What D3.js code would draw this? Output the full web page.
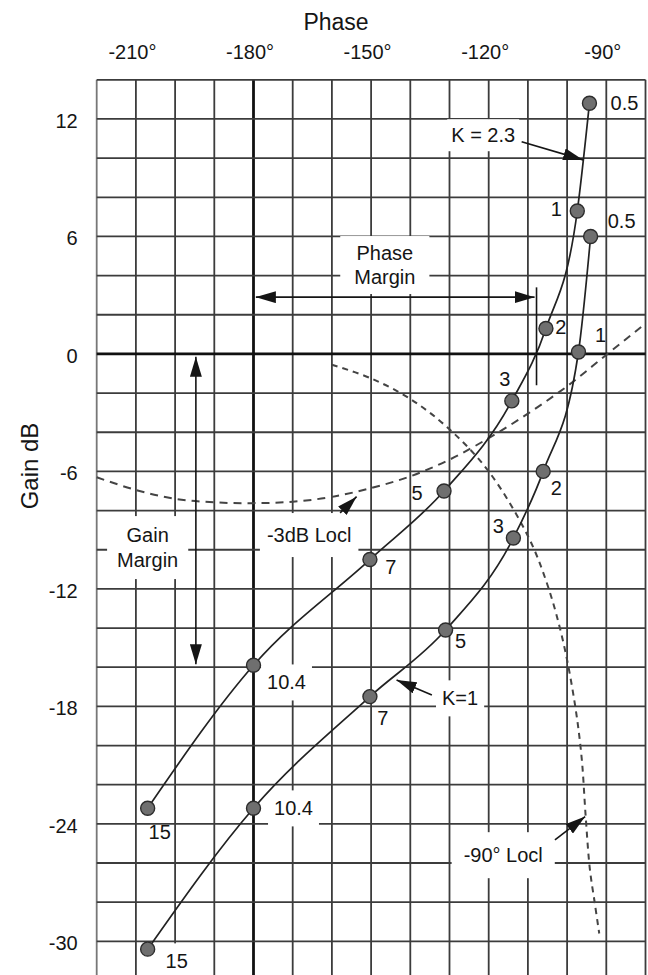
<!DOCTYPE html>
<html>
<head>
<meta charset="utf-8">
<script src="https://cdn.jsdelivr.net/npm/d3@7"></script>
<style>
  html, body { margin: 0; padding: 0; background: #fff; }
  svg { display: block; font-family: "Liberation Sans", Arial, Helvetica, sans-serif; }
</style>
</head>
<body>
<svg id="chart" width="648" height="975"></svg>
<script>
// ---- Nichols chart data -------------------------------------------------
// Frequencies (rad/s) marked along both open-loop curves
const freqLabels = ["0.5", "1", "2", "3", "5", "7", "10.4", "15"];

// Open-loop response with K = 2.3 (phase in degrees, gain in dB)
const phaseK23 = [-94.3, -97.4, -105.4, -114.1, -131.4, -150.3, -180, -207];
const gainK23  = [12.8, 7.3, 1.3, -2.4, -7.0, -10.5, -15.9, -23.2];

// Open-loop response with K = 1
const phaseK1 = [-94.0, -97.1, -106.1, -113.7, -131.0, -150.3, -180, -207];
const gainK1  = [6.0, 0.1, -6.0, -9.4, -14.1, -17.5, -23.2, -30.4];

// Closed-loop -3 dB magnitude locus
const locusM3Phase = [-220, -210, -200, -190, -180, -170, -160, -150, -140, -130, -120, -110, -100, -90, -80];
const locusM3Gain  = [-6.3, -6.95, -7.4, -7.58, -7.62, -7.55, -7.3, -6.85, -6.25, -5.4, -4.3, -3.05, -1.65, -0.05, 1.55];

// Closed-loop -90 degree phase locus
const locus90Phase = [-160, -150, -140, -130, -120, -110, -105, -101, -98, -96.3, -95.3, -94.2, -92.9, -91.8];
const locus90Gain  = [-0.55, -1.25, -2.3, -3.85, -6.0, -9.3, -11.8, -14.7, -17.9, -20.6, -23.5, -26.3, -28.1, -29.6];

// Axis tick labels
const phaseTicks = [-210, -180, -150, -120, -90];
const gainTicks  = [12, 6, 0, -6, -12, -18, -24, -30];

// Stability margins for K = 2.3
const crossoverPhase = -107.8;   // phase where the K = 2.3 curve crosses 0 dB
const gainAtPhaseCross = -15.9;  // gain of the K = 2.3 curve at -180 degrees

// ---- Layout -------------------------------------------------------------
const W = 648, H = 975;
const svg = d3.select("#chart");

const x = d3.scaleLinear().domain([-220, -80]).range([96.7, 645.5]);
const y = d3.scaleLinear().domain([14, -32]).range([79.8, 980.5]);

const ink = "#151515";
const gridColor = "#3c3c3c";

svg.append("rect").attr("width", W).attr("height", H).attr("fill", "#fff");

// Arrowhead marker
const defs = svg.append("defs");
defs.append("marker")
  .attr("id", "head")
  .attr("viewBox", "0 0 20 12")
  .attr("refX", 20).attr("refY", 6)
  .attr("markerWidth", 20).attr("markerHeight", 12)
  .attr("markerUnits", "userSpaceOnUse")
  .attr("orient", "auto-start-reverse")
  .append("path").attr("d", "M0,0 L20,6 L0,12 Z").attr("fill", ink);

// ---- Grid ---------------------------------------------------------------
const grid = svg.append("g");
const vLines = d3.range(-220, -79, 10);
const hLines = d3.range(14, -33, -2);

grid.selectAll("line.v").data(vLines).join("line")
  .attr("x1", d => x(d)).attr("x2", d => x(d))
  .attr("y1", y(14)).attr("y2", H)
  .attr("stroke", d => d === -220 ? "#777" : (d === -180 ? "#111" : gridColor))
  .attr("stroke-width", d => d === -180 ? 2.8 : 1.8);

grid.selectAll("line.h").data(hLines.filter(d => y(d) <= H)).join("line")
  .attr("x1", x(-220)).attr("x2", x(-80))
  .attr("y1", d => y(d)).attr("y2", d => y(d))
  .attr("stroke", d => d === 0 ? "#111" : gridColor)
  .attr("stroke-width", d => d === 0 ? 2.8 : 1.8);

// ---- Axes ---------------------------------------------------------------
const topAxis = svg.append("g")
  .attr("transform", `translate(0,${y(14)})`)
  .call(d3.axisTop(x).tickValues(phaseTicks).tickSize(0).tickPadding(21).tickFormat(d => d + "°"));
topAxis.select(".domain").remove();
topAxis.selectAll("text").attr("font-size", 20).attr("fill", ink)
  .attr("font-family", "Liberation Sans, Arial, sans-serif").attr("dx", -4);

const leftAxis = svg.append("g")
  .attr("transform", `translate(${x(-220)},0)`)
  .call(d3.axisLeft(y).tickValues(gainTicks).tickSize(0).tickPadding(19).tickFormat(d => String(d)));
leftAxis.select(".domain").remove();
leftAxis.selectAll("text").attr("font-size", 20).attr("fill", ink)
  .attr("font-family", "Liberation Sans, Arial, sans-serif").attr("dy", "0.42em");

svg.append("text").attr("x", 336).attr("y", 29.5).attr("text-anchor", "middle")
  .attr("font-size", 23).attr("fill", ink).text("Phase");

svg.append("text").attr("transform", `translate(38,${466}) rotate(-90)`)
  .attr("text-anchor", "middle").attr("font-size", 24).attr("fill", ink).text("Gain dB");

// ---- Labels with a white backing box ------------------------------------
const boxLayer = svg.append("g");
const markLayer = svg.append("g");
const textLayer = svg.append("g");

function boxedText(lines, cx, cy, lineGap, padX, padY) {
  const g = textLayer.append("g");
  const n = lines.length;
  lines.forEach((s, i) => {
    g.append("text")
      .attr("x", cx).attr("y", cy + (i - (n - 1) / 2) * lineGap)
      .attr("dy", "0.36em").attr("text-anchor", "middle")
      .attr("font-size", 20).attr("fill", ink).text(s);
  });
  const b = g.node().getBBox();
  boxLayer.append("rect")
    .attr("x", b.x - padX).attr("y", b.y - padY)
    .attr("width", b.width + 2 * padX).attr("height", b.height + 2 * padY)
    .attr("fill", "#fff");
}

// ---- Loci (dashed) ------------------------------------------------------
const smooth = d3.line().x(d => x(d[0])).y(d => y(d[1])).curve(d3.curveCatmullRom.alpha(0.5));

markLayer.append("path")
  .attr("d", smooth(d3.zip(locusM3Phase, locusM3Gain)))
  .attr("fill", "none").attr("stroke", "#444").attr("stroke-width", 2)
  .attr("stroke-dasharray", "8,6");

markLayer.append("path")
  .attr("d", smooth(d3.zip(locus90Phase, locus90Gain)))
  .attr("fill", "none").attr("stroke", "#444").attr("stroke-width", 2)
  .attr("stroke-dasharray", "6,5");

// ---- Open-loop curves ---------------------------------------------------
// Phase falls steadily with frequency, so the curve is drawn as a
// monotone spline in phase.
const openLoop = d3.line().x(d => x(d[0])).y(d => y(d[1])).curve(d3.curveMonotoneX);

const series = [
  { phase: phaseK23, gain: gainK23, offsets: [[35,0],[-21,-2],[15,-2],[-7,-22],[-27,2],[21,7],[33,17],[12,24]], boxed: [6] },
  { phase: phaseK1,  gain: gainK1,  offsets: [[31,-16],[22,-17],[13,16],[-15,-12],[15,11],[13,21],[40,0],[29,12]], boxed: [6, 7] }
];

series.forEach(s => {
  const pts = d3.zip(s.phase, s.gain);
  const sorted = pts.slice().sort((a, b) => a[0] - b[0]);
  markLayer.append("path")
    .attr("d", openLoop(sorted))
    .attr("fill", "none").attr("stroke", "#222").attr("stroke-width", 1.7);

  markLayer.selectAll(null).data(pts).join("circle")
    .attr("cx", d => x(d[0])).attr("cy", d => y(d[1])).attr("r", 7)
    .attr("fill", "#6f6f6f").attr("stroke", "#2c2c2c").attr("stroke-width", 1.4);

  pts.forEach((d, i) => {
    const cx = x(d[0]) + s.offsets[i][0];
    const cy = y(d[1]) + s.offsets[i][1];
    if (s.boxed.includes(i)) {
      boxedText([freqLabels[i]], cx, cy, 0, 6, 7);
    } else {
      textLayer.append("text").attr("x", cx).attr("y", cy).attr("dy", "0.36em")
        .attr("text-anchor", "middle").attr("font-size", 20).attr("fill", ink)
        .text(freqLabels[i]);
    }
  });
});

// ---- Annotations --------------------------------------------------------
function arrow(p0, g0, p1, g1, both) {
  const l = markLayer.append("line")
    .attr("x1", x(p0)).attr("y1", y(g0)).attr("x2", x(p1)).attr("y2", y(g1))
    .attr("stroke", ink).attr("stroke-width", 1.6)
    .attr("marker-end", "url(#head)");
  if (both) l.attr("marker-start", "url(#head)");
}

// Phase margin
arrow(-179.4, 2.9, -108.3, 2.9, true);
markLayer.append("line")
  .attr("x1", x(crossoverPhase)).attr("x2", x(crossoverPhase))
  .attr("y1", y(3.4)).attr("y2", y(-1.6))
  .attr("stroke", ink).attr("stroke-width", 1.6);
boxedText(["Phase", "Margin"], x(-146.5), y(4.55), 24, 14, 6);

// Gain margin
arrow(-194.7, -0.15, -194.7, gainAtPhaseCross + 0.05, true);
boxedText(["Gain", "Margin"], x(-207.0), y(-9.88), 25, 10, 8);

// Curve tags
boxedText(["K = 2.3"], x(-121.4), y(11.18), 0, 4, 5);
arrow(-111.6, 10.84, -95.9, 9.91, false);

boxedText(["-3dB Locl"], x(-165.8), y(-9.24), 0, 7, 11);
arrow(-157.9, -8.12, -153.7, -7.29, false);

boxedText(["K=1"], x(-127.3), y(-17.58), 0, 6, 7);
arrow(-134.5, -17.42, -143.5, -16.65, false);

boxedText(["-90° Locl"], x(-116.3), y(-25.59), 0, 12, 12);
arrow(-103.1, -24.82, -95.4, -23.63, false);
</script>
</body>
</html>
